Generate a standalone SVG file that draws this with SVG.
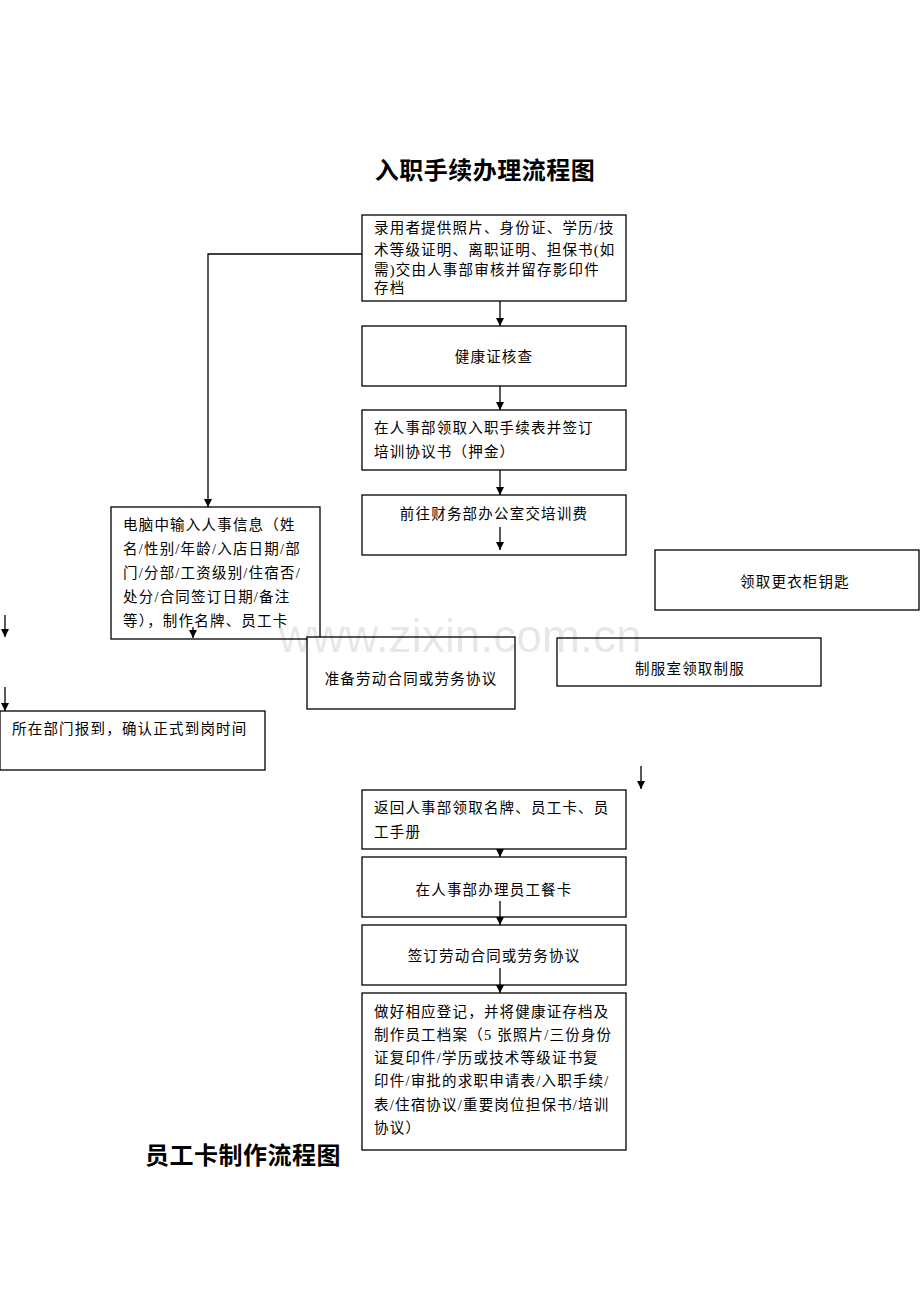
<svg xmlns="http://www.w3.org/2000/svg" width="920" height="1302" viewBox="0 0 920 1302">
<style>
.b{fill:#fff;stroke:#000;stroke-width:1.3}
text{font-family:"Liberation Serif","Noto Sans CJK SC",serif;font-size:14.5px;letter-spacing:1.2px;fill:#000}
.t{font-size:24px;font-weight:bold;letter-spacing:0.5px}
.c{text-anchor:middle}
.l{stroke:#000;stroke-width:1.3;fill:none}
.wm{font-family:"Liberation Sans",sans-serif;font-size:46px;fill:#000;fill-opacity:0.1;letter-spacing:0}
</style>
<defs><marker id="a" viewBox="0 0 10 10" refX="10" refY="5" markerWidth="8" markerHeight="8" markerUnits="userSpaceOnUse" orient="auto"><path d="M0,0L10,5L0,10z" fill="#000"/></marker></defs>
<text class="t c" x="485" y="179">入职手续办理流程图</text>
<text class="t" x="145" y="1164">员工卡制作流程图</text>
<g id="n1"><rect class="b" x="362" y="215" width="264" height="86"/><text x="374" y="233">录用者提供照片、身份证、学历/技</text><text x="374" y="255">术等级证明、离职证明、担保书(如</text><text x="374" y="275">需)交由人事部审核并留存影印件</text><text x="374" y="293">存档</text></g>
<g id="n2"><rect class="b" x="362" y="326" width="264" height="60"/><text class="c" x="494" y="362">健康证核查</text></g>
<g id="n3"><rect class="b" x="362" y="410" width="264" height="60"/><text x="374" y="433">在人事部领取入职手续表并签订</text><text x="374" y="457">培训协议书（押金）</text></g>
<g id="n4"><rect class="b" x="362" y="495" width="264" height="60"/><text class="c" x="494" y="519">前往财务部办公室交培训费</text></g>
<g id="n5"><rect class="b" x="655" y="550" width="264" height="60"/><text class="c" x="795" y="587">领取更衣柜钥匙</text></g>
<g id="n6"><rect class="b" x="111" y="507" width="209" height="132"/><text x="123" y="530">电脑中输入人事信息（姓</text><text x="123" y="554">名/性别/年龄/入店日期/部</text><text x="123" y="578">门/分部/工资级别/住宿否/</text><text x="123" y="602">处分/合同签订日期/备注</text><text x="123" y="626">等），制作名牌、员工卡</text></g>
<g id="n7"><rect class="b" x="307" y="637" width="208" height="72"/><text class="c" x="411" y="684">准备劳动合同或劳务协议</text></g>
<g id="n8"><rect class="b" x="557" y="638" width="264" height="48"/><text class="c" x="690" y="674">制服室领取制服</text></g>
<g id="n9"><rect class="b" x="0" y="711" width="265" height="59"/><text x="12" y="734">所在部门报到，确认正式到岗时间</text></g>
<g id="n10"><rect class="b" x="362" y="790" width="264" height="59"/><text x="374" y="813">返回人事部领取名牌、员工卡、员</text><text x="374" y="837">工手册</text></g>
<g id="n11"><rect class="b" x="362" y="857" width="264" height="60"/><text class="c" x="494" y="895">在人事部办理员工餐卡</text></g>
<g id="n12"><rect class="b" x="362" y="925" width="264" height="60"/><text class="c" x="494" y="961">签订劳动合同或劳务协议</text></g>
<g id="n13"><rect class="b" x="362" y="993" width="264" height="157"/><text x="374" y="1017">做好相应登记，并将健康证存档及</text><text x="374" y="1040">制作员工档案（5 张照片/三份身份</text><text x="374" y="1063">证复印件/学历或技术等级证书复</text><text x="374" y="1086">印件/审批的求职申请表/入职手续/</text><text x="374" y="1110">表/住宿协议/重要岗位担保书/培训</text><text x="374" y="1133">协议）</text></g>
<g id="connectors">
<path class="l" d="M500,301V326" marker-end="url(#a)"/>
<path class="l" d="M500,386V410" marker-end="url(#a)"/>
<path class="l" d="M500,470V495" marker-end="url(#a)"/>
<path class="l" d="M500,527V550" marker-end="url(#a)"/>
<path class="l" d="M362,254H208V507" marker-end="url(#a)"/>
<path class="l" d="M193,627V638" marker-end="url(#a)"/>
<path class="l" d="M5,615V637" marker-end="url(#a)"/>
<path class="l" d="M5,687V711" marker-end="url(#a)"/>
<path class="l" d="M641,766V789" marker-end="url(#a)"/>
<path class="l" d="M500,849V857" marker-end="url(#a)"/>
<path class="l" d="M500,901V925" marker-end="url(#a)"/>
<path class="l" d="M500,968V993" marker-end="url(#a)"/>
</g>
<text class="wm c" x="460" y="652">www.zixin.com.cn</text>
</svg>
